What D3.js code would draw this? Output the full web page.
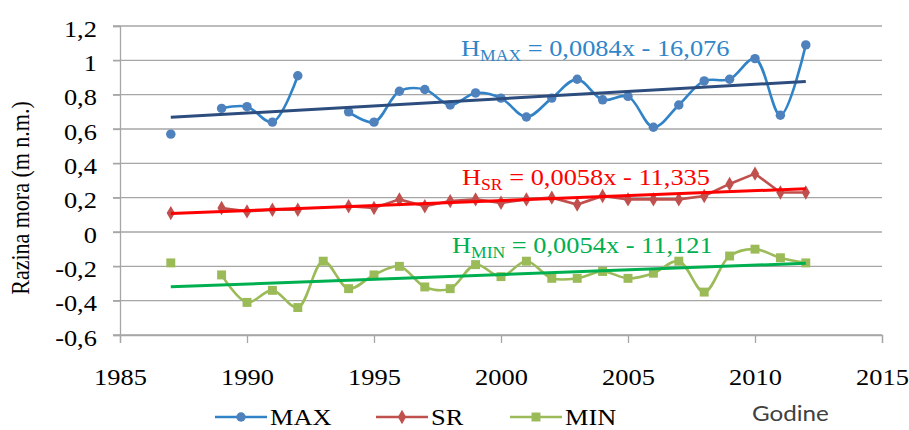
<!DOCTYPE html>
<html>
<head>
<meta charset="utf-8">
<script src="https://cdn.jsdelivr.net/npm/d3@7"></script>
<style>
  body { margin: 0; background: #fff; }
</style>
</head>
<body>
<script>
// values (m n.m.), null = no data that year
var years = [1987, 1988, 1989, 1990, 1991, 1992, 1993, 1994, 1995, 1996, 1997, 1998, 1999,
             2000, 2001, 2002, 2003, 2004, 2005, 2006, 2007, 2008, 2009, 2010, 2011, 2012];
var maxVals = [0.57, null, 0.72, 0.73, 0.64, 0.91, null, 0.70, 0.64, 0.82, 0.83, 0.74, 0.81,
               0.78, 0.67, 0.78, 0.89, 0.77, 0.79, 0.61, 0.74, 0.88, 0.89, 1.01, 0.68, 1.09];
var srVals = [0.11, null, 0.14, 0.12, 0.13, 0.13, null, 0.15, 0.14, 0.19, 0.15, 0.18, 0.19,
              0.17, 0.19, 0.20, 0.16, 0.21, 0.19, 0.19, 0.19, 0.21, 0.28, 0.34, 0.23, 0.23];
var minVals = [-0.18, null, -0.25, -0.41, -0.34, -0.44, -0.17, -0.33, -0.25, -0.20, -0.32, -0.33, -0.19,
               -0.26, -0.17, -0.27, -0.27, -0.23, -0.27, -0.24, -0.17, -0.35, -0.14, -0.10, -0.15, -0.18];

var seriesNames = ["MAX", "SR", "MIN"];
var subNames = ["MAX", "SR", "MIN"];
var equations = ["= 0,0084x - 16,076", "= 0,0058x - 11,335", "= 0,0054x - 11,121"];
var xTicks = [1985, 1990, 1995, 2000, 2005, 2010, 2015];
var yTicks = [-0.6, -0.4, -0.2, 0, 0.2, 0.4, 0.6, 0.8, 1, 1.2];

var width = 909, height = 430;
var stretch = 1.1; // the picture's text is a bit wide
var serif = "'Liberation Serif', 'Times New Roman', serif";

var svg = d3.select("body").append("svg")
  .attr("width", width)
  .attr("height", height)
  .attr("font-family", serif);

var x = d3.scaleLinear().domain([1985, 2015]).range([120, 882]);
var y = d3.scaleLinear().domain([-0.6, 1.2]).range([335, 26]);

var fmt = v => String(+v.toFixed(1)).replace(".", ",");

// gridlines
svg.append("g").selectAll("line")
  .data(yTicks)
  .enter().append("line")
  .attr("x1", 113).attr("x2", 882)
  .attr("y1", d => y(d)).attr("y2", d => y(d))
  .attr("stroke", "#a6a6a6")
  .attr("stroke-width", 1.3);

// y axis
var yAxis = svg.append("g")
  .attr("transform", "translate(120,0)")
  .call(d3.axisLeft(y).tickValues(yTicks).tickSize(7).tickPadding(14).tickFormat(fmt));
yAxis.attr("font-family", serif);
yAxis.select(".domain").attr("stroke", "#a6a6a6").attr("stroke-width", 1.3);
yAxis.selectAll(".tick line").attr("stroke", "#a6a6a6").attr("stroke-width", 1.3);
yAxis.selectAll("text")
  .attr("font-size", 24)
  .attr("fill", "#000")
  .attr("dy", "0.42em")
  .attr("transform", `scale(${stretch},1)`);

// x axis
var xAxis = svg.append("g")
  .attr("transform", `translate(0,${y(-0.6)})`)
  .call(d3.axisBottom(x).tickValues(xTicks).tickSize(8).tickFormat(d3.format("d")));
xAxis.attr("font-family", serif);
xAxis.select(".domain").attr("stroke", "#a6a6a6").attr("stroke-width", 1.3);
xAxis.selectAll(".tick line").attr("stroke", "#a6a6a6").attr("stroke-width", 1.3);
xAxis.selectAll("text")
  .attr("font-size", 24)
  .attr("fill", "#000")
  .attr("y", 50).attr("dy", 0)
  .attr("transform", `scale(${stretch},1)`);

// y axis title
svg.append("text")
  .attr("transform", `translate(29,198) rotate(-90) scale(1,${stretch})`)
  .attr("text-anchor", "middle")
  .attr("font-size", 22)
  .text("Razina mora (m n.m.)");

var series = [
  {vals: maxVals, line: "#3183c8", mark: "#4f81bd", trend: "#2c4d7e", text: "#2f86c8", curve: true, shape: "circle"},
  {vals: srVals, line: "#c0504d", mark: "#c0504d", trend: "#ff0000", text: "#ff0000", curve: false, shape: "diamond"},
  {vals: minVals, line: "#9bbb59", mark: "#9bbb59", trend: "#00b050", text: "#00b050", curve: true, shape: "square"}
];

function pts(vals) {
  return years.map((yr, i) => ({yr: yr, v: vals[i]}));
}

// least squares line, like the spreadsheet trendline
function fit(vals) {
  var p = pts(vals).filter(d => d.v != null);
  var mx = d3.mean(p, d => d.yr), my = d3.mean(p, d => d.v);
  var b = d3.sum(p, d => (d.yr - mx) * (d.v - my)) / d3.sum(p, d => (d.yr - mx) * (d.yr - mx));
  var a = my - b * mx;
  return [p[0].yr, p[p.length - 1].yr].map(t => ({yr: t, v: a + b * t}));
}

var symbols = {
  circle: d3.symbol().type(d3.symbolCircle).size(70),
  diamond: d3.symbol().type(d3.symbolDiamond).size(60),
  square: d3.symbol().type(d3.symbolSquare).size(80)
};

series.forEach(function(s) {
  var line = d3.line()
    .defined(d => d.v != null)
    .x(d => x(d.yr))
    .y(d => y(d.v))
    .curve(s.curve ? d3.curveCatmullRom.alpha(0.5) : d3.curveLinear);

  svg.append("path")
    .datum(pts(s.vals))
    .attr("d", line)
    .attr("fill", "none")
    .attr("stroke", s.line)
    .attr("stroke-width", 2.6);

  svg.append("g").selectAll("path")
    .data(pts(s.vals).filter(d => d.v != null))
    .enter().append("path")
    .attr("d", symbols[s.shape])
    .attr("transform", d => `translate(${x(d.yr)},${y(d.v)})`)
    .attr("fill", s.mark);
});

// trend lines on top
series.forEach(function(s) {
  svg.append("path")
    .datum(fit(s.vals))
    .attr("d", d3.line().x(d => x(d.yr)).y(d => y(d.v)))
    .attr("stroke", s.trend)
    .attr("stroke-width", 3)
    .attr("fill", "none");
});

// equations
var eqPos = [[461, 56], [462, 185], [452, 253]];
series.forEach(function(s, i) {
  var t = svg.append("text")
    .attr("transform", `translate(${eqPos[i][0]},${eqPos[i][1]}) scale(${stretch},1)`)
    .attr("font-size", 24)
    .attr("fill", s.text);
  t.append("tspan").text("H");
  t.append("tspan").attr("dy", 5).attr("font-size", 16).text(subNames[i]);
  t.append("tspan").attr("dy", -5).text(" " + equations[i]);
});

// legend
var legX = [215, 376, 510];
series.forEach(function(s, i) {
  var g = svg.append("g").attr("transform", `translate(${legX[i]},417)`);
  g.append("line").attr("x1", 0).attr("x2", 52).attr("y1", 0).attr("y2", 0)
    .attr("stroke", s.line).attr("stroke-width", 2.6);
  g.append("path").attr("d", symbols[s.shape]).attr("transform", "translate(26,0)").attr("fill", s.mark);
  g.append("text")
    .attr("transform", `translate(55,8) scale(${stretch},1)`)
    .attr("font-size", 24)
    .text(seriesNames[i]);
});

svg.append("text")
  .attr("transform", `translate(752,421) scale(${stretch},1)`)
  .attr("font-family", "Lato, 'Open Sans', sans-serif")
  .attr("font-size", 22)
  .attr("fill", "#404040")
  .text("Godine");
</script>
</body>
</html>
